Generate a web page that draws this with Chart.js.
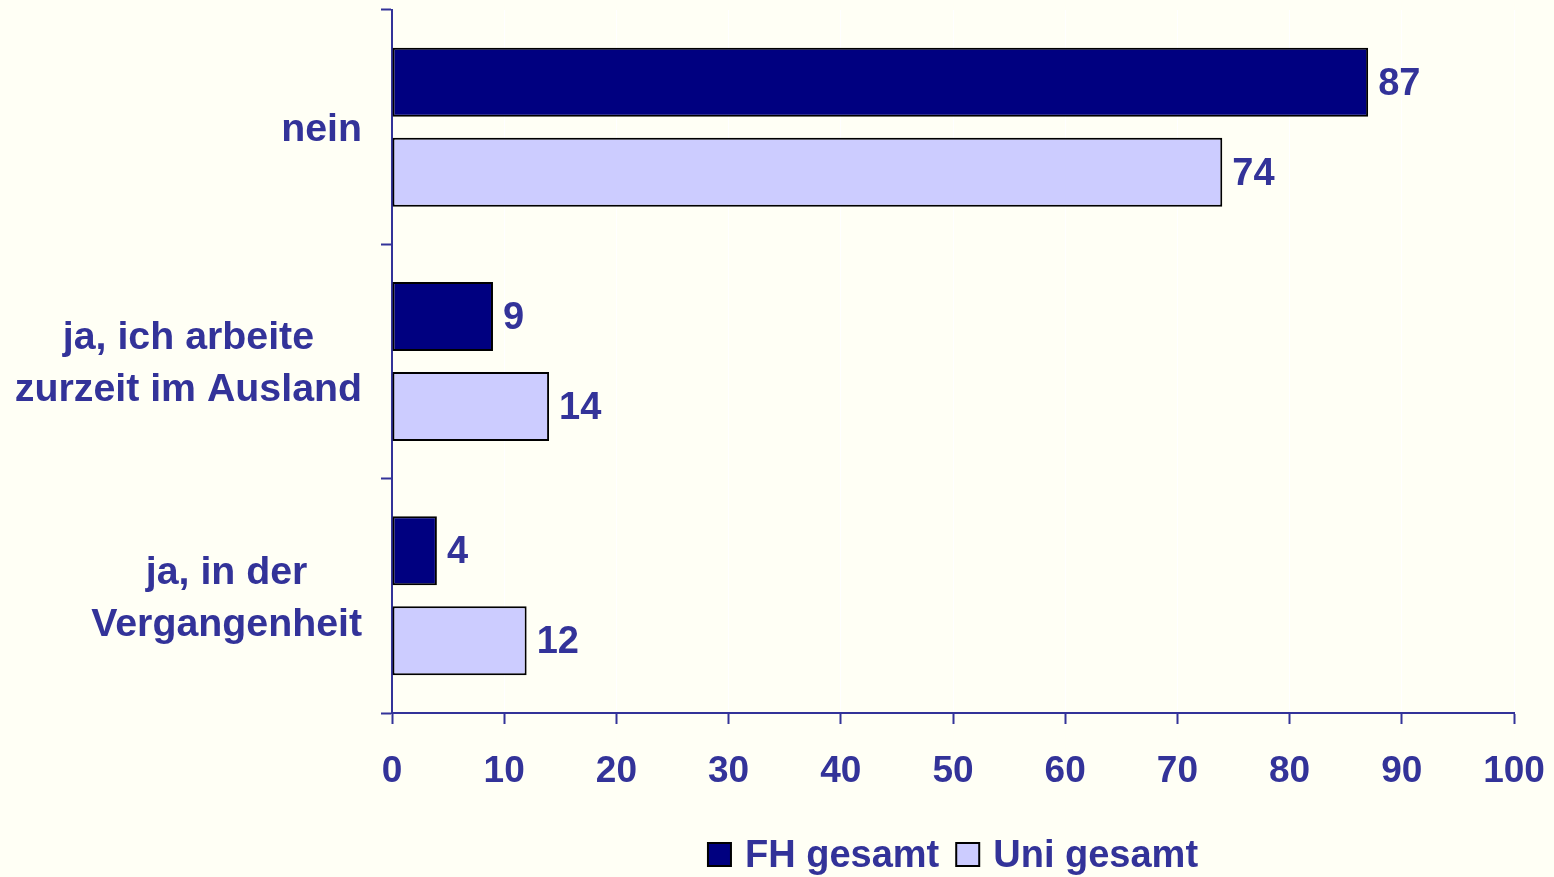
<!DOCTYPE html>
<html>
<head>
<meta charset="utf-8">
<script src="https://cdn.jsdelivr.net/npm/chart.js@4"></script>
<style>
html,body{margin:0;padding:0;background:#FFFFF5;}
#wrap{width:1554px;height:877px;position:relative;}
</style>
</head>
<body>
<div id="wrap"><canvas id="c" width="1554" height="877"></canvas></div>
<script>
const categories = [['nein'], ['ja, ich arbeite', 'zurzeit im Ausland'], ['ja, in der', 'Vergangenheit']];
const seriesNames = ['FH gesamt', 'Uni gesamt'];
const fhValues = [87, 9, 4];
const uniValues = [74, 14, 12];
const xMin = 0, xMax = 100, xStep = 10;

const TEXT = '#333399';
const FAMILY = '"Liberation Sans", Arial, sans-serif';

const labelsPlugin = {
  id: 'customLabels',
  afterDatasetsDraw(chart) {
    const ctx = chart.ctx;
    ctx.save();
    ctx.fillStyle = TEXT;
    ctx.font = 'bold 38px ' + FAMILY;
    ctx.textBaseline = 'middle';
    ctx.textAlign = 'left';
    chart.data.datasets.forEach((ds, di) => {
      const meta = chart.getDatasetMeta(di);
      meta.data.forEach((bar, i) => {
        ctx.fillText(String(ds.data[i]), bar.x + 10, bar.y + 2);
      });
    });
    // category labels
    const ys = chart.scales.y;
    ctx.font = 'bold 39.3px ' + FAMILY;
    ctx.textAlign = 'center';
    ctx.textBaseline = 'middle';
    const lh = 52;
    categories.forEach((lines, i) => {
      const yc = ys.getPixelForValue(i);
      let maxW = 0;
      lines.forEach(l => { maxW = Math.max(maxW, ctx.measureText(l).width); });
      const cx = chart.chartArea.left - 30 - maxW / 2;
      const y0 = yc - (lines.length - 1) * lh / 2;
      lines.forEach((l, k) => ctx.fillText(l, cx, y0 + k * lh + 3));
    });
    // legend
    ctx.font = 'bold 38px ' + FAMILY;
    ctx.textAlign = 'left';
    ctx.textBaseline = 'alphabetic';
    const box = 23, gapT = 14, gapI = 17;
    let total = 0;
    const widths = chart.data.datasets.map(ds => ctx.measureText(ds.label).width);
    widths.forEach((w, i) => { total += box + gapT + w + (i > 0 ? gapI : 0); });
    let x = (chart.chartArea.left + chart.chartArea.right) / 2 - total / 2;
    chart.data.datasets.forEach((ds, i) => {
      ctx.fillStyle = ds.backgroundColor;
      ctx.fillRect(x, 843, box, box);
      ctx.strokeStyle = '#000000';
      ctx.lineWidth = 2;
      ctx.strokeRect(x, 843, box, box);
      ctx.fillStyle = TEXT;
      ctx.fillText(ds.label, x + box + gapT, 867);
      x += box + gapT + widths[i] + gapI;
    });
    ctx.restore();
  }
};

new Chart(document.getElementById('c'), {
  type: 'bar',
  data: {
    labels: categories.map(c => c.join(' ')),
    datasets: [
      { label: seriesNames[0], data: fhValues, backgroundColor: '#000080', borderColor: '#000000', borderWidth: 2, borderSkipped: false, categoryPercentage: 0.768, barPercentage: 0.767 },
      { label: seriesNames[1], data: uniValues, backgroundColor: '#CCCCFF', borderColor: '#000000', borderWidth: 2, borderSkipped: false, categoryPercentage: 0.768, barPercentage: 0.767 }
    ]
  },
  options: {
    indexAxis: 'y',
    responsive: false,
    animation: false,
    devicePixelRatio: 1,
    layout: { padding: { left: 0, right: 40, top: 10, bottom: 0 } },
    plugins: { legend: { display: false }, tooltip: { enabled: false } },
    scales: {
      x: {
        min: xMin, max: xMax,
        ticks: { stepSize: xStep, color: TEXT, font: { family: FAMILY, size: 37, weight: 'bold' }, padding: 26, maxRotation: 0 },
        grid: { color: '#FFFFFF', lineWidth: 1, tickColor: TEXT, tickLength: 11, tickWidth: 2 },
        border: { color: TEXT, width: 2 },
        afterFit(scale) { scale.height = 877 - 713; scale.paddingLeft = 0; scale.paddingRight = 0; }
      },
      y: {
        ticks: { display: false },
        grid: { offset: true, drawOnChartArea: false, drawTicks: true, tickLength: 11, tickColor: TEXT, tickWidth: 2, color: TEXT },
        border: { color: TEXT, width: 2 },
        afterFit(scale) { scale.width = 392; scale.paddingTop = 0; scale.paddingBottom = 0; }
      }
    }
  },
  plugins: [labelsPlugin]
});
</script>
</body>
</html>
